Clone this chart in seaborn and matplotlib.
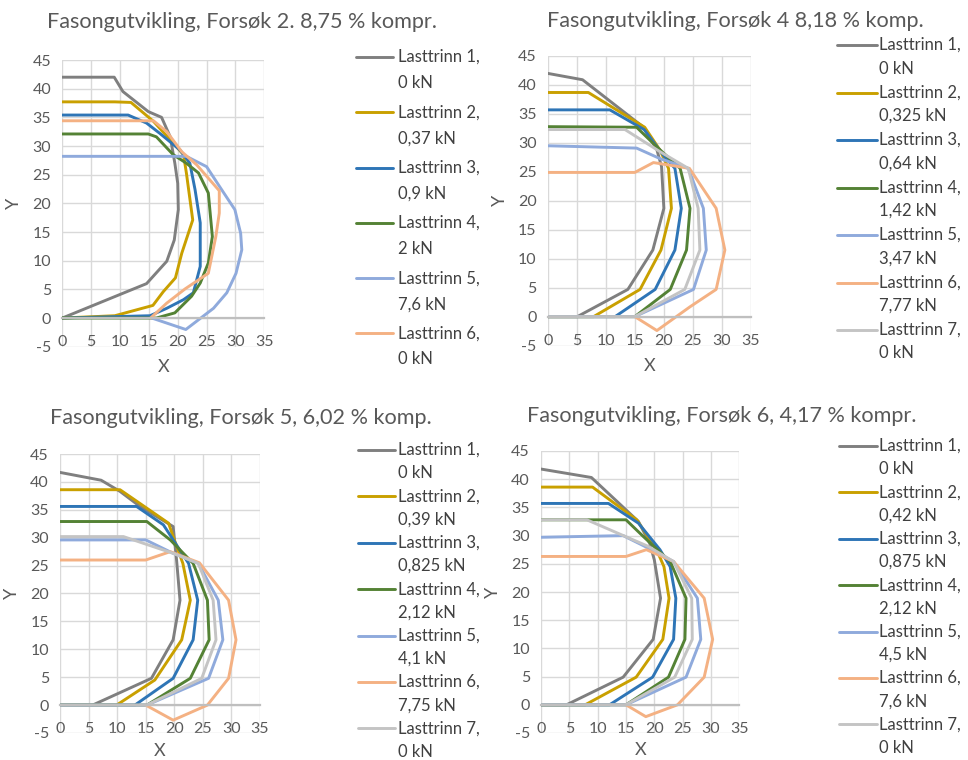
import matplotlib
matplotlib.use("Agg")
import matplotlib.pyplot as plt
from matplotlib.lines import Line2D
import pandas as pd
import seaborn as sns

sns.set_theme(style="white")
plt.rcParams["font.family"] = ["Lato", "DejaVu Sans"]
plt.rcParams["axes.unicode_minus"] = False

# ---------------- Forsøk 2 ----------------
f2_title = "Fasongutvikling, Forsøk 2. 8,75 % kompr."
f2_loads = ["0", "0,37", "0,9", "2", "7,6", "0"]
f2_l1_x = [0, 9.0, 10.5, 14.9, 17.2, 18.7, 19.5, 20.0, 20.1, 19.4, 18.1, 14.6, 0]
f2_l1_y = [42.0, 42.0, 39.5, 36.0, 35.0, 31.6, 27.0, 23.5, 18.9, 13.6, 9.9, 6.0, 0]
f2_l2_x = [0, 9.1, 11.9, 15.8, 21.0, 21.5, 22.6, 20.7, 19.6, 17.5, 15.7, 9.1, 0]
f2_l2_y = [37.7, 37.7, 37.6, 34.3, 28.5, 25.3, 17.1, 11.3, 7.0, 4.6, 2.2, 0.4, 0]
f2_l3_x = [0, 11.4, 14.6, 16.9, 20.4, 22.1, 23.0, 23.9, 23.9, 22.7, 21.0, 18.1, 15.2, 0]
f2_l3_y = [35.4, 35.4, 34.0, 32.2, 29.3, 27.0, 22.4, 16.6, 9.0, 4.4, 3.2, 1.7, 0.4, 0]
f2_l4_x = [0, 14.9, 16.3, 19.2, 21.5, 23.6, 25.3, 26.0, 25.3, 23.9, 22.4, 19.5, 16.3, 0]
f2_l4_y = [32.1, 32.1, 31.6, 28.5, 27.0, 25.3, 21.8, 14.2, 9.6, 6.1, 3.8, 0.9, 0, 0]
f2_l5_x = [0, 21.5, 25.0, 27.6, 29.9, 30.9, 31.1, 30.1, 28.5, 26.2, 21.4, 15.5]
f2_l5_y = [28.2, 28.2, 26.4, 22.4, 18.9, 14.8, 11.9, 7.8, 4.4, 1.7, -2.0, 0]
f2_l6_x = [0, 15.8, 18.1, 20.7, 23.3, 27.2, 27.2, 26.6, 25.3, 21.3, 18.1, 15.3]
f2_l6_y = [34.4, 34.4, 32.5, 29.0, 26.7, 22.2, 18.3, 14.2, 7.8, 5.1, 2.6, 0]

# ---------------- Forsøk 4 ----------------
f4_title = "Fasongutvikling, Forsøk 4 8,18 % komp."
f4_loads = ["0", "0,325", "0,64", "1,42", "3,47", "7,77", "0"]
f4_l1_x = [0, 6.0, 16.5, 18.8, 19.6, 20.0, 18.1, 13.8, 5.1, 0]
f4_l1_y = [42.0, 40.9, 32.7, 28.8, 25.9, 18.7, 11.5, 4.7, 0, 0]
f4_l2_x = [0, 7.0, 16.7, 19.3, 20.8, 21.3, 19.5, 15.9, 7.9, 0]
f4_l2_y = [38.7, 38.7, 32.7, 28.8, 25.6, 18.7, 11.5, 4.7, 0, 0]
f4_l3_x = [0, 10.7, 16.6, 19.9, 21.9, 23.0, 21.9, 18.5, 11.6, 0]
f4_l3_y = [35.7, 35.7, 32.3, 27.9, 25.6, 18.7, 11.5, 4.7, 0, 0]
f4_l4_x = [0, 15.3, 18.8, 22.8, 24.5, 23.9, 21.1, 15.0, 0]
f4_l4_y = [32.8, 32.7, 29.3, 25.6, 18.7, 11.5, 4.7, 0, 0]
f4_l5_x = [0, 15.3, 19.3, 24.2, 26.8, 27.3, 25.1, 15.0, 0]
f4_l5_y = [29.5, 29.1, 27.3, 25.6, 18.7, 11.5, 4.7, 0, 0]
f4_l6_x = [0, 15.0, 18.2, 24.4, 29.0, 30.5, 29.0, 24.5, 18.8, 15.0]
f4_l6_y = [24.9, 24.9, 26.6, 25.6, 18.7, 11.5, 4.7, 1.7, -2.4, 0]
f4_l7_x = [0, 13.3, 19.3, 24.2, 25.9, 26.2, 23.6, 15.0, 0]
f4_l7_y = [32.3, 32.3, 28.5, 25.6, 18.7, 11.5, 4.7, 0, 0]

# ---------------- Forsøk 5 ----------------
f5_title = "Fasongutvikling, Forsøk 5, 6,02 % komp."
f5_loads = ["0", "0,39", "0,825", "2,12", "4,1", "7,75", "0"]
f5_l1_x = [0, 7.2, 10.5, 14.0, 19.8, 20.4, 21.0, 19.8, 16.0, 5.7, 0]
f5_l1_y = [41.7, 40.3, 38.3, 35.6, 32.0, 26.0, 18.8, 11.7, 4.8, 0, 0]
f5_l2_x = [0, 10.5, 19.0, 19.8, 21.5, 22.8, 21.3, 16.6, 9.9, 0]
f5_l2_y = [38.6, 38.6, 32.6, 30.2, 25.4, 18.8, 11.7, 4.5, 0, 0]
f5_l3_x = [0, 13.4, 18.1, 22.5, 24.1, 23.3, 19.8, 13.1, 0]
f5_l3_y = [35.6, 35.6, 32.3, 25.4, 18.8, 11.7, 4.8, 0, 0]
f5_l4_x = [0, 15.2, 19.3, 23.3, 25.8, 26.1, 22.8, 15.2, 0]
f5_l4_y = [32.9, 32.9, 29.6, 25.4, 18.8, 11.7, 4.8, 0, 0]
f5_l5_x = [0, 15.0, 19.8, 24.2, 27.7, 28.5, 26.0, 15.2, 0]
f5_l5_y = [29.6, 29.6, 27.2, 25.4, 18.8, 11.7, 4.8, 0, 0]
f5_l6_x = [0, 15.0, 19.3, 24.4, 29.5, 30.8, 29.5, 25.8, 19.8, 15.0]
f5_l6_y = [26.0, 26.0, 27.5, 25.5, 18.8, 11.7, 4.8, 0, -2.7, 0]
f5_l7_x = [0, 11.1, 19.8, 24.2, 26.8, 27.3, 24.8, 15.2, 0]
f5_l7_y = [30.2, 30.2, 27.2, 25.4, 18.8, 11.7, 4.8, 0, 0]

# ---------------- Forsøk 6 ----------------
f6_title = "Fasongutvikling, Forsøk 6, 4,17 % kompr."
f6_loads = ["0", "0,42", "0,875", "2,12", "4,5", "7,6", "0"]
f6_l1_x = [0, 8.9, 17.2, 19.2, 20.0, 21.1, 19.8, 14.5, 4.5, 0]
f6_l1_y = [41.8, 40.3, 32.5, 28.6, 25.7, 18.9, 11.6, 4.9, 0, 0]
f6_l2_x = [0, 9.1, 16.9, 20.4, 21.7, 22.6, 21.5, 16.8, 7.8, 0]
f6_l2_y = [38.6, 38.6, 32.8, 27.5, 24.5, 18.9, 11.6, 4.9, 0, 0]
f6_l3_x = [0, 11.9, 17.2, 21.0, 22.8, 23.8, 23.4, 19.7, 12.1, 0]
f6_l3_y = [35.7, 35.7, 32.2, 27.5, 24.5, 18.9, 11.6, 4.9, 0, 0]
f6_l4_x = [0, 15.0, 18.1, 22.8, 25.6, 25.4, 22.5, 15.0, 0]
f6_l4_y = [32.8, 32.8, 29.8, 25.4, 18.9, 11.6, 4.9, 0, 0]
f6_l5_x = [0, 14.5, 18.1, 23.4, 27.6, 28.2, 25.6, 15.0, 0]
f6_l5_y = [29.7, 30.0, 28.2, 25.4, 18.9, 11.6, 4.9, 0, 0]
f6_l6_x = [0, 15.0, 18.6, 23.4, 28.8, 30.3, 28.8, 24.1, 18.5, 15.0]
f6_l6_y = [26.3, 26.3, 27.5, 25.4, 18.9, 11.6, 4.9, 0, -2.1, 0]
f6_l7_x = [0, 8.1, 18.9, 23.4, 26.6, 26.7, 23.6, 15.0, 0]
f6_l7_y = [32.8, 32.8, 28.1, 25.4, 18.9, 11.6, 4.9, 0, 0]

step_colors = ["#7F7F7F", "#C9A000", "#2E75B6", "#548235",
               "#8FAADC", "#F4B183", "#C4C4C4"]

W, H = 968, 760
TEXT = "#595959"
LEGEND_TEXT = "#404040"

fig = plt.figure(figsize=(W / 100, H / 100), dpi=100)


def make_frame(xs, ys, loads):
    parts = []
    for i, (x, y) in enumerate(zip(xs, ys)):
        label = f"Lasttrinn {i + 1},\n{loads[i]} kN"
        parts.append(pd.DataFrame({"X": x, "Y": y, "serie": label}))
    return pd.concat(parts, ignore_index=True)


def panel(xs, ys, loads, title, box, title_pos, xlabel_y, leg):
    x0, x35, ytop, ybot = box
    ax = fig.add_axes([x0 / W, 1 - ybot / H, (x35 - x0) / W, (ybot - ytop) / H])
    df = make_frame(xs, ys, loads)
    labels = list(dict.fromkeys(df["serie"]))
    pal = dict(zip(labels, step_colors[:len(labels)]))
    sns.lineplot(data=df, x="X", y="Y", hue="serie", palette=pal, sort=False,
                 estimator=None, linewidth=2.1, legend=False, ax=ax)

    ax.set_xlim(0, 35)
    ax.set_ylim(-5, 45)
    ax.set_xticks(range(0, 36, 5))
    ax.set_yticks(range(-5, 46, 5))
    ax.grid(True, color="#D9D9D9", linewidth=1.0)
    ax.set_axisbelow(True)
    for s in ("top", "right", "left"):
        ax.spines[s].set_visible(False)
    ax.spines["bottom"].set_position(("data", 0))
    ax.spines["bottom"].set_color("#BFBFBF")
    ax.spines["bottom"].set_linewidth(1.6)
    ax.tick_params(axis="both", length=0, labelsize=11.5, labelcolor=TEXT)
    ax.tick_params(axis="x", pad=12.5)
    ax.tick_params(axis="y", pad=8)
    ax.set_xlabel("")
    ax.set_ylabel("Y", fontsize=13, color=TEXT)
    ax.yaxis.set_label_coords(-40 / (x35 - x0), 0.5)
    fig.text((x0 + x35) / 2 / W, 1 - xlabel_y / H, "X", ha="center",
             va="center", fontsize=13, color=TEXT)

    fig.text(title_pos[0] / W, 1 - title_pos[1] / H, title, ha="center",
             va="baseline", fontsize=15.6, color=TEXT)

    lx0, lx1, tx, ly0, step, gap = leg
    for i, lab in enumerate(labels):
        yy = ly0 + i * step
        fig.add_artist(Line2D([lx0 / W, lx1 / W], [1 - yy / H] * 2,
                              transform=fig.transFigure, color=pal[lab],
                              linewidth=2.1))
        first, second = lab.split("\n")
        fig.text(tx / W, 1 - yy / H, first, ha="left", va="center",
                 fontsize=12, color=LEGEND_TEXT)
        fig.text(tx / W, 1 - (yy + gap) / H, second, ha="left", va="center",
                 fontsize=12, color=LEGEND_TEXT)
    return ax


panel([f2_l1_x, f2_l2_x, f2_l3_x, f2_l4_x, f2_l5_x, f2_l6_x],
      [f2_l1_y, f2_l2_y, f2_l3_y, f2_l4_y, f2_l5_y, f2_l6_y],
      f2_loads, f2_title, (62.3, 264.3, 60, 346.7), (242, 28), 367,
      (356, 393, 398, 57, 55.3, 26))
panel([f4_l1_x, f4_l2_x, f4_l3_x, f4_l4_x, f4_l5_x, f4_l6_x, f4_l7_x],
      [f4_l1_y, f4_l2_y, f4_l3_y, f4_l4_y, f4_l5_y, f4_l6_y, f4_l7_y],
      f4_loads, f4_title, (547.7, 751, 56, 345.6), (735, 27), 366,
      (837, 877, 879, 45, 47.5, 23.5))
panel([f5_l1_x, f5_l2_x, f5_l3_x, f5_l4_x, f5_l5_x, f5_l6_x, f5_l7_x],
      [f5_l1_y, f5_l2_y, f5_l3_y, f5_l4_y, f5_l5_y, f5_l6_y, f5_l7_y],
      f5_loads, f5_title, (60, 260, 454, 733), (241, 424), 751,
      (358, 395, 398, 450, 46.4, 23.2))
panel([f6_l1_x, f6_l2_x, f6_l3_x, f6_l4_x, f6_l5_x, f6_l6_x, f6_l7_x],
      [f6_l1_y, f6_l2_y, f6_l3_y, f6_l4_y, f6_l5_y, f6_l6_y, f6_l7_y],
      f6_loads, f6_title, (541, 739.3, 451, 733), (722, 422), 750,
      (839, 877, 879, 446, 46.4, 23.2))

fig.savefig("out.png", dpi=100, facecolor="white")
